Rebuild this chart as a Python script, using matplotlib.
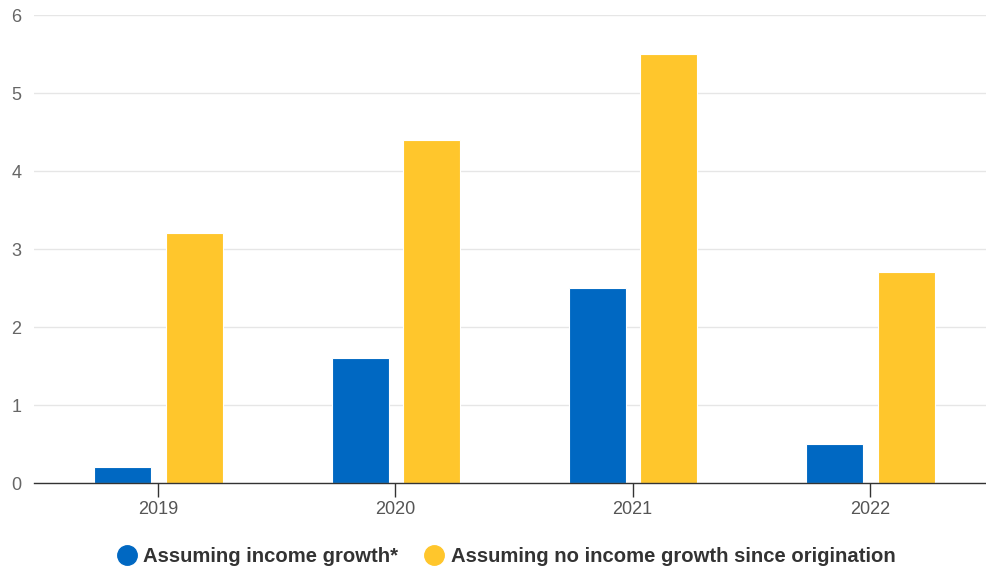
import matplotlib
matplotlib.use("Agg")
import matplotlib.pyplot as plt
from matplotlib.lines import Line2D
import numpy as np

categories = ["2019", "2020", "2021", "2022"]
income_growth = [0.2, 1.6, 2.5, 0.5]
no_income_growth = [3.2, 4.4, 5.5, 2.7]
series_names = ["Assuming income growth*", "Assuming no income growth since origination"]
yticks = [0, 1, 2, 3, 4, 5, 6]

blue = "#0068c2"
yellow = "#ffc62c"

plt.rcParams['font.family'] = ['Liberation Sans', 'DejaVu Sans']

W, H = 986, 571
fig = plt.figure(figsize=(W/100, H/100), dpi=100)
ax = fig.add_axes([34/W, (H-483)/H, (986-34)/W, (483-15)/H])

x = np.arange(len(categories))
bw = 0.24
ax.bar(x - 0.148, income_growth, bw, color=blue, edgecolor="white", linewidth=0.8, zorder=3)
ax.bar(x + 0.153, no_income_growth, bw, color=yellow, edgecolor="white", linewidth=0.8, zorder=3)

ax.set_xlim(-0.5225, 3.489)
ax.set_ylim(0, 6)
ax.set_yticks(yticks)
ax.set_yticklabels([str(t) for t in yticks])
ax.set_xticks(x)
ax.set_xticklabels(categories)

ax.grid(axis="y", color="#e6e6e6", linewidth=1, zorder=0)
ax.grid(axis="x", visible=False)
for s in ["top", "right", "left"]:
    ax.spines[s].set_visible(False)
ax.spines["bottom"].set_color("#333333")
ax.spines["bottom"].set_linewidth(1)
ax.spines["bottom"].set_zorder(4)

ax.tick_params(axis="y", length=0, pad=9, labelsize=13, labelcolor="#666666")
ax.tick_params(axis="x", length=10, width=1, color="#333333", pad=3, labelsize=13, labelcolor="#555555")
for lbl in ax.get_yticklabels():
    lbl.set_horizontalalignment("right")

handles = [Line2D([0], [0], marker="o", linestyle="none", markersize=14, markerfacecolor=blue, markeredgecolor=blue),
           Line2D([0], [0], marker="o", linestyle="none", markersize=14, markerfacecolor=yellow, markeredgecolor=yellow)]
leg = fig.legend(handles, series_names, loc="center", bbox_to_anchor=(506/W, 1 - 557/H), ncol=2, frameon=False,
                 prop={"size": 14.6, "weight": "bold"}, handletextpad=0.3, columnspacing=1.3, handlelength=1.0)
for t in leg.get_texts():
    t.set_color("#333333")

fig.savefig("out.png", dpi=100)
